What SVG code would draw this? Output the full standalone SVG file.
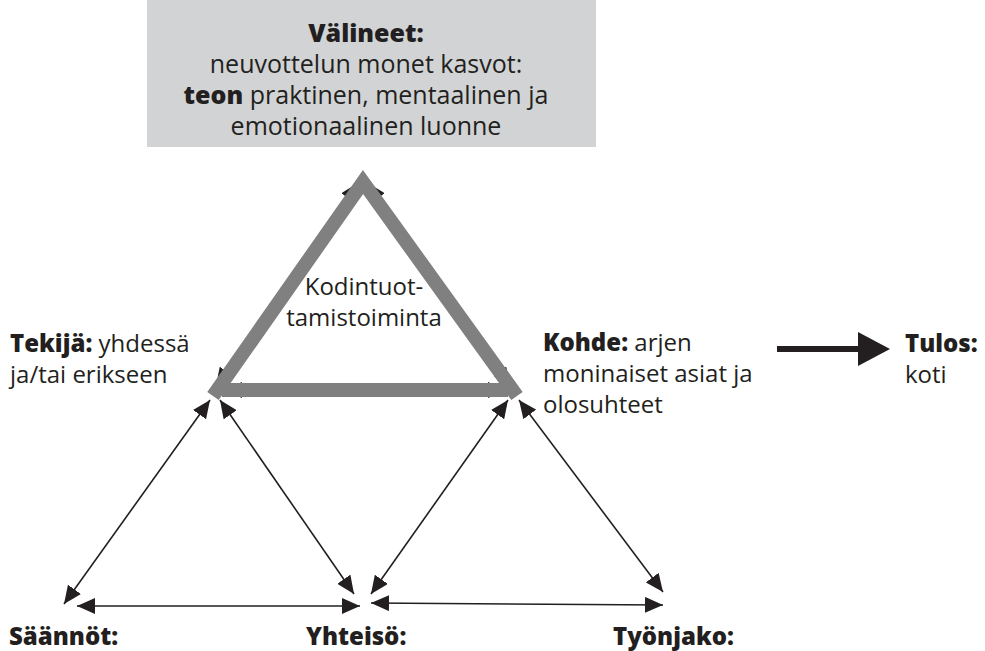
<svg xmlns="http://www.w3.org/2000/svg" width="985" height="651" viewBox="0 0 985 651">
<defs>
<style>
text{font-family:"Open Sans","Noto Sans","Liberation Sans",sans-serif;font-size:24px;fill:#231f20}
.b{font-weight:800}
.c{text-anchor:middle}
.top{font-size:25px}
.thin{stroke:#231f20;stroke-width:1.6;fill:none;marker-start:url(#ah);marker-end:url(#ah)}
.band{stroke:#808080;stroke-width:14;fill:none}
</style>
<marker id="ah" viewBox="0 0 18 16" refX="18" refY="8" markerWidth="18" markerHeight="16" markerUnits="userSpaceOnUse" orient="auto-start-reverse"><path d="M0,0 L18,8 L0,16 z" fill="#231f20"/></marker>
</defs>
<g id="valineet">
<rect x="147" y="0" width="449" height="147" fill="#d1d3d4"/>
<text class="c b top" x="366" y="42">Välineet:</text>
<text class="c top" x="366" y="73">neuvottelun monet kasvot:</text>
<text class="c top" x="366" y="104"><tspan class="b">teon</tspan> praktinen, mentaalinen ja</text>
<text class="c top" x="366" y="135">emotionaalinen luonne</text>
</g>
<g id="connectors">
<line class="thin" x1="216" y1="386" x2="358" y2="183"/>
<line class="thin" x1="368" y1="183" x2="510" y2="386"/>
<line class="thin" x1="224" y1="390" x2="506" y2="390"/>
<line class="thin" x1="210" y1="400" x2="64" y2="604"/>
<line class="thin" x1="220" y1="400" x2="354" y2="594"/>
<line class="thin" x1="508" y1="400" x2="371" y2="594"/>
<line class="thin" x1="519" y1="400" x2="663" y2="592"/>
<line class="thin" x1="77" y1="606" x2="360" y2="606"/>
<line class="thin" x1="371" y1="603" x2="663" y2="605"/>
<line x1="777" y1="349" x2="862" y2="349" stroke="#231f20" stroke-width="6"/>
<polygon points="858,332 890,349 858,366" fill="#231f20"/>
</g>
<g id="toiminta">
<polyline class="band" points="213,396 363,182 517,396" stroke-linejoin="miter" stroke-miterlimit="10"/>
<line class="band" x1="222" y1="390" x2="508" y2="390"/>
<text class="c" x="364" y="295">Kodintuot-</text>
<text class="c" x="364" y="326">tamistoiminta</text>
</g>
<g id="tekija">
<text x="10" y="352"><tspan class="b">Tekijä:</tspan> yhdessä</text>
<text x="10" y="383">ja/tai erikseen</text>
</g>
<g id="kohde">
<text x="543" y="351"><tspan class="b">Kohde:</tspan> arjen</text>
<text x="543" y="382">moninaiset asiat ja</text>
<text x="543" y="413">olosuhteet</text>
</g>
<g id="tulos">
<text class="b" x="905" y="352">Tulos:</text>
<text x="905" y="383">koti</text>
</g>
<g id="saannot"><text class="b" x="9" y="645">Säännöt:</text></g>
<g id="yhteiso"><text class="b" x="306" y="645">Yhteisö:</text></g>
<g id="tyonjako"><text class="b" x="613" y="645">Työnjako:</text></g>
</svg>
